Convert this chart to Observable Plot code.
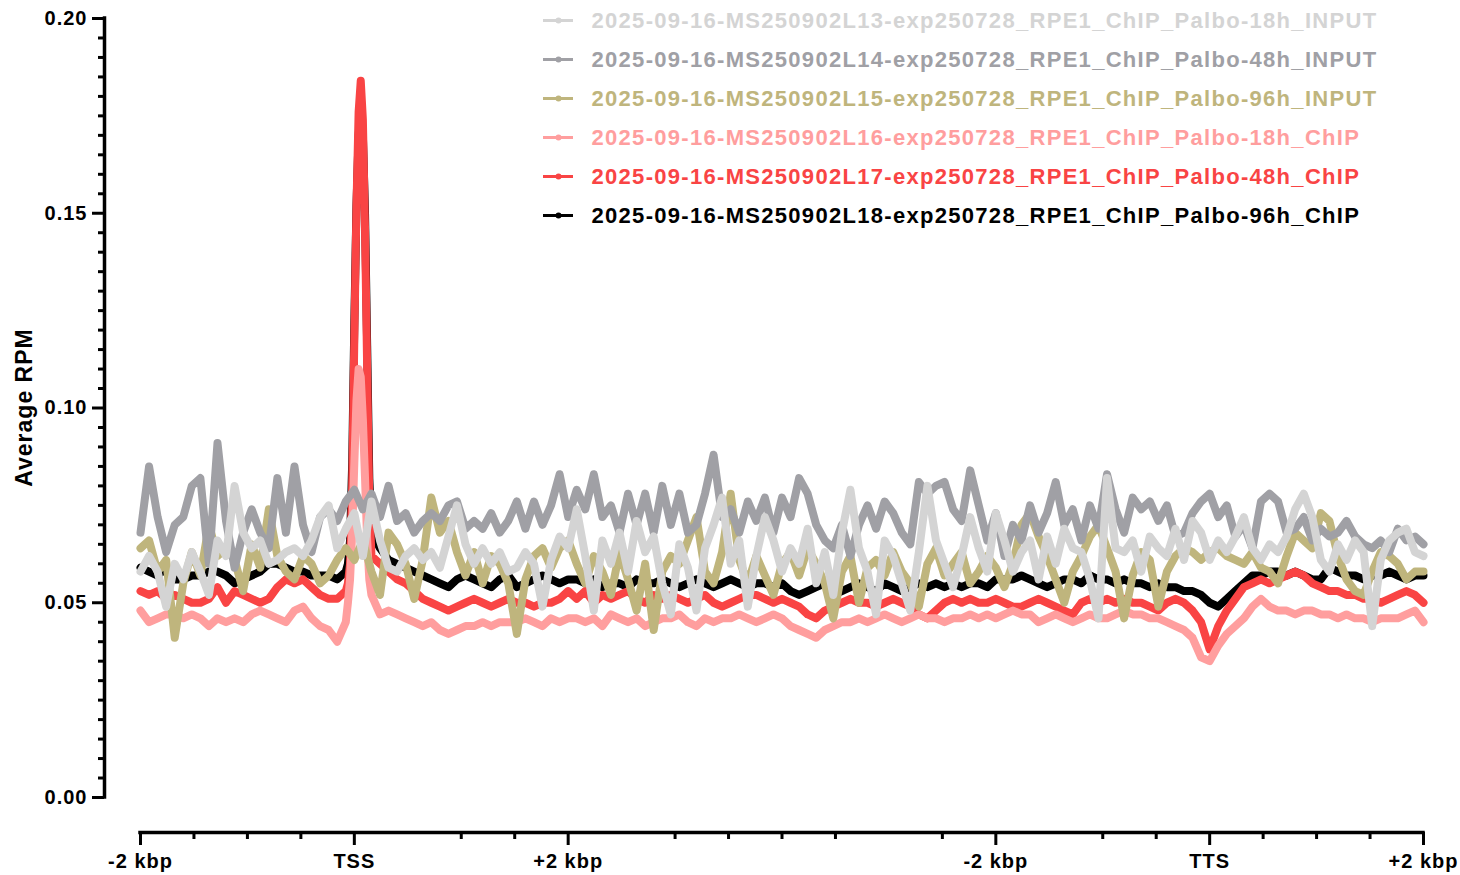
<!DOCTYPE html>
<html>
<head>
<meta charset="utf-8">
<script src="https://cdn.jsdelivr.net/npm/d3@7"></script>
<script src="https://cdn.jsdelivr.net/npm/@observablehq/plot@0.6"></script>
<style>
  html, body { margin: 0; padding: 0; background: #fff; }
  #wrap { position: relative; width: 1460px; height: 875px; }
  #wrap > svg { position: absolute; left: 0; top: 0; }
</style>
</head>
<body>
<div id="wrap"></div>
<script>
// ---------- series names and colours (legend order) ----------
const seriesNames = [
  "2025-09-16-MS250902L13-exp250728_RPE1_ChIP_Palbo-18h_INPUT",
  "2025-09-16-MS250902L14-exp250728_RPE1_ChIP_Palbo-48h_INPUT",
  "2025-09-16-MS250902L15-exp250728_RPE1_ChIP_Palbo-96h_INPUT",
  "2025-09-16-MS250902L16-exp250728_RPE1_ChIP_Palbo-18h_ChIP",
  "2025-09-16-MS250902L17-exp250728_RPE1_ChIP_Palbo-48h_ChIP",
  "2025-09-16-MS250902L18-exp250728_RPE1_ChIP_Palbo-96h_ChIP"
];
const seriesColors = ["#d4d4d4", "#a0a0a5", "#bfb57d", "#ff9e9e", "#f94444", "#000000"];

// ---------- bin grid: 0 = -2 kbp, 1 = TSS, 2 = +2 kbp, 4 = -2 kbp, 5 = TTS, 6 = +2 kbp ----------
const binStep = 0.04; // 151 bins across 0..6

// ---------- Average RPM per bin ----------
const L13 = [
  0.058,0.062,0.058,0.049,0.060,0.056,0.063,0.058,0.052,0.066,
  0.062,0.080,0.068,0.064,0.066,0.060,0.061,0.063,0.064,0.062,
  0.066,0.072,0.075,0.064,0.069,0.073,0.062,0.076,0.066,0.059,
  0.058,0.062,0.064,0.061,0.063,0.059,0.067,0.075,0.065,0.060,
  0.064,0.060,0.063,0.058,0.059,0.063,0.060,0.049,0.061,0.067,
  0.064,
  0.074,0.062,0.048,0.066,0.060,0.068,0.058,0.071,0.063,0.067,
  0.055,0.047,0.065,0.059,0.048,0.064,0.070,0.077,0.060,0.066,
  0.049,0.062,0.072,0.066,0.058,0.064,0.060,0.069,0.055,0.063,
  0.052,0.068,0.079,0.064,0.058,0.047,0.066,0.062,0.055,0.048,
  0.063,0.080,0.066,0.060,0.054,0.062,0.072,0.064,0.058,0.073,
  0.066,0.058,0.063,0.066,0.056,0.067,0.060,0.069,0.064,0.063,
  0.056,0.046,0.082,0.064,0.063,0.066,0.058,0.067,0.064,0.062,
  0.069,0.061,0.071,0.068,0.061,0.066,0.063,0.067,0.072,0.064,
  0.061,0.065,0.063,0.067,0.074,0.078,0.072,0.061,0.058,0.065,
  0.061,0.066,0.063,0.044,0.061,0.066,0.068,0.069,0.063,0.062
];
const L14 = [
  0.068,0.085,0.072,0.063,0.070,0.072,0.080,0.082,0.060,0.091,
  0.071,0.059,0.068,0.074,0.068,0.064,0.082,0.068,0.085,0.070,
  0.063,0.072,0.074,0.071,0.076,0.079,0.074,0.078,0.072,0.080,
  0.071,0.073,0.068,0.071,0.073,0.071,0.075,0.076,0.069,0.071,
  0.069,0.073,0.068,0.071,0.076,0.069,0.076,0.070,0.075,0.083,
  0.072,
  0.079,0.074,0.083,0.072,0.075,0.068,0.078,0.070,0.078,0.068,
  0.080,0.070,0.078,0.068,0.070,0.078,0.088,0.072,0.074,0.068,
  0.076,0.071,0.077,0.068,0.077,0.072,0.082,0.078,0.070,0.066,
  0.064,0.070,0.062,0.070,0.075,0.069,0.076,0.073,0.068,0.065,
  0.081,0.078,0.080,0.081,0.074,0.071,0.084,0.075,0.066,0.073,
  0.062,0.070,0.066,0.075,0.068,0.073,0.081,0.070,0.074,0.066,
  0.075,0.069,0.083,0.074,0.068,0.077,0.074,0.076,0.071,0.075,
  0.067,0.068,0.073,0.076,0.078,0.072,0.075,0.067,0.070,0.064,
  0.076,0.078,0.076,0.068,0.069,0.072,0.066,0.069,0.067,0.068,
  0.071,0.067,0.065,0.064,0.066,0.063,0.069,0.066,0.067,0.065
];
const L15 = [
  0.064,0.066,0.058,0.061,0.041,0.055,0.063,0.057,0.070,0.062,
  0.064,0.061,0.053,0.065,0.059,0.074,0.062,0.058,0.056,0.062,
  0.060,0.055,0.057,0.061,0.064,0.061,0.066,0.058,0.052,0.068,
  0.065,0.060,0.051,0.061,0.077,0.068,0.071,0.063,0.057,0.063,
  0.055,0.062,0.060,0.055,0.042,0.056,0.062,0.064,0.059,0.064,
  0.066,
  0.060,0.055,0.062,0.058,0.052,0.063,0.056,0.048,0.060,0.043,
  0.058,0.062,0.060,0.066,0.072,0.058,0.055,0.063,0.078,0.061,
  0.055,0.062,0.057,0.052,0.060,0.063,0.057,0.064,0.060,0.055,
  0.046,0.058,0.062,0.050,0.059,0.061,0.057,0.063,0.058,0.055,
  0.049,0.060,0.064,0.057,0.060,0.063,0.055,0.058,0.062,0.059,
  0.054,0.060,0.070,0.073,0.067,0.062,0.056,0.050,0.058,0.062,
  0.067,0.070,0.064,0.058,0.046,0.057,0.063,0.061,0.049,0.058,
  0.062,0.064,0.063,0.061,0.063,0.064,0.062,0.061,0.060,0.063,
  0.059,0.058,0.055,0.062,0.068,0.066,0.064,0.073,0.071,0.062,
  0.056,0.053,0.052,0.058,0.063,0.062,0.060,0.056,0.058,0.058
];
const L16 = [
  0.048,0.045,0.046,0.047,0.047,0.046,0.047,0.046,0.044,0.046,
  0.045,0.046,0.045,0.047,0.048,0.047,0.046,0.045,0.048,0.049,
  0.046,0.044,0.043,0.040,0.045,0.086,0.097,0.052,0.047,0.048,
  0.047,0.046,0.045,0.044,0.045,0.043,0.042,0.043,0.044,0.044,
  0.045,0.044,0.045,0.045,0.045,0.046,0.045,0.044,0.046,0.045,
  0.046,
  0.046,0.045,0.046,0.044,0.047,0.046,0.045,0.046,0.044,0.045,
  0.046,0.046,0.047,0.045,0.044,0.046,0.045,0.046,0.046,0.047,
  0.046,0.045,0.046,0.047,0.046,0.044,0.043,0.042,0.041,0.043,
  0.044,0.045,0.045,0.046,0.045,0.046,0.047,0.046,0.045,0.046,
  0.047,0.046,0.046,0.045,0.046,0.046,0.047,0.046,0.047,0.046,
  0.047,0.048,0.047,0.047,0.045,0.046,0.047,0.046,0.045,0.046,
  0.047,0.046,0.046,0.047,0.048,0.047,0.047,0.046,0.046,0.045,
  0.044,0.043,0.041,0.036,0.035,0.039,0.042,0.044,0.046,0.049,
  0.051,0.049,0.048,0.048,0.047,0.048,0.048,0.047,0.047,0.046,
  0.047,0.046,0.046,0.045,0.046,0.046,0.046,0.047,0.048,0.045
];
const L17 = [
  0.053,0.052,0.053,0.051,0.052,0.051,0.050,0.050,0.051,0.054,
  0.050,0.053,0.052,0.051,0.050,0.051,0.054,0.056,0.055,0.056,
  0.054,0.052,0.051,0.051,0.053,0.118,0.174,0.062,0.060,0.058,
  0.056,0.055,0.053,0.051,0.050,0.049,0.048,0.049,0.050,0.051,
  0.050,0.049,0.050,0.051,0.050,0.050,0.049,0.050,0.050,0.051,
  0.053,
  0.051,0.053,0.050,0.052,0.051,0.052,0.053,0.051,0.050,0.052,
  0.051,0.052,0.051,0.050,0.051,0.052,0.050,0.049,0.050,0.051,
  0.052,0.052,0.051,0.050,0.051,0.050,0.049,0.047,0.046,0.048,
  0.049,0.050,0.051,0.050,0.050,0.049,0.050,0.051,0.050,0.049,
  0.047,0.046,0.048,0.050,0.051,0.050,0.051,0.050,0.050,0.051,
  0.050,0.049,0.049,0.050,0.051,0.050,0.049,0.048,0.047,0.050,
  0.051,0.050,0.051,0.050,0.051,0.050,0.050,0.049,0.048,0.050,
  0.051,0.050,0.048,0.045,0.038,0.044,0.048,0.051,0.054,0.055,
  0.056,0.055,0.056,0.057,0.058,0.057,0.055,0.054,0.053,0.053,
  0.052,0.052,0.051,0.051,0.050,0.051,0.052,0.053,0.052,0.050
];
const L18 = [
  0.059,0.058,0.057,0.059,0.056,0.056,0.057,0.057,0.058,0.058,
  0.057,0.055,0.056,0.057,0.058,0.060,0.060,0.059,0.058,0.058,
  0.057,0.057,0.057,0.056,0.058,0.122,0.170,0.068,0.064,0.061,
  0.060,0.059,0.058,0.057,0.056,0.055,0.054,0.056,0.057,0.056,
  0.055,0.054,0.056,0.057,0.054,0.055,0.056,0.057,0.056,0.055,
  0.056,
  0.056,0.055,0.056,0.054,0.055,0.055,0.054,0.056,0.055,0.055,
  0.056,0.055,0.054,0.055,0.056,0.055,0.054,0.055,0.056,0.055,
  0.054,0.055,0.055,0.054,0.055,0.053,0.052,0.053,0.054,0.055,
  0.052,0.053,0.054,0.055,0.054,0.053,0.055,0.054,0.053,0.054,
  0.055,0.054,0.055,0.054,0.055,0.054,0.055,0.055,0.054,0.056,
  0.056,0.056,0.057,0.056,0.055,0.054,0.055,0.056,0.056,0.055,
  0.057,0.056,0.056,0.055,0.056,0.055,0.055,0.054,0.055,0.054,
  0.054,0.053,0.053,0.052,0.050,0.049,0.051,0.053,0.055,0.057,
  0.057,0.058,0.058,0.057,0.058,0.057,0.056,0.056,0.059,0.058,
  0.057,0.057,0.056,0.057,0.057,0.058,0.057,0.056,0.057,0.057
];

// finer bins around the TSS peak (ChIP samples)
const tssDetailX = [0.97, 0.98, 0.99, 1.01, 1.02, 1.03, 1.05, 1.06, 1.07];
const L16tss = [0.050, 0.056, 0.068, 0.102, 0.110, 0.108, 0.082, 0.066, 0.056];
const L17tss = [0.055, 0.060, 0.080, 0.152, 0.176, 0.184, 0.146, 0.110, 0.076];
const L18tss = [0.060, 0.066, 0.086, 0.152, 0.170, 0.177, 0.150, 0.116, 0.082];

// ---------- axis ticks ----------
const xTickValues = [0, 1, 2, 4, 5, 6];
const xTickLabels = ["-2 kbp", "TSS", "+2 kbp", "-2 kbp", "TTS", "+2 kbp"];
const xMinorTicks = [0.25, 0.5, 0.75, 1.5, 1.75, 2.5, 2.75, 3, 3.25, 3.75, 4.5, 4.75, 5.25, 5.5, 5.75];
const yTickValues = [0, 0.05, 0.10, 0.15, 0.20];
const yMinorStep = 0.005;
const yLabel = "Average RPM";

// ---------- build table ----------
const seriesValues = [L13, L14, L15, L16, L17, L18];
const seriesDetail = [null, null, null, L16tss, L17tss, L18tss];
const rows = [];
seriesValues.forEach((arr, s) => {
  const pts = arr.map((v, i) => ({x: +(i * binStep).toFixed(4), y: v}));
  if (seriesDetail[s]) tssDetailX.forEach((x, j) => pts.push({x, y: seriesDetail[s][j]}));
  pts.sort((a, b) => a.x - b.x);
  pts.forEach(p => rows.push({series: seriesNames[s], x: p.x, y: p.y}));
});
const yMinorTicks = d3.range(0, 0.2 + 1e-9, yMinorStep)
  .map(v => +v.toFixed(3))
  .filter(v => !yTickValues.some(t => Math.abs(t - v) < 1e-9));

const font = "'Liberation Sans', Arial, Helvetica, sans-serif";

// draw order: last sample at the back, first sample on top
const drawOrder = [5, 4, 3, 2, 1, 0];
const lineMarks = drawOrder.map(s => Plot.line(rows.filter(r => r.series === seriesNames[s]), {
  x: "x", y: "y", stroke: "series", strokeWidth: 8,
  strokeLinejoin: "round", strokeLinecap: "round"
}));

const chart = Plot.plot({
  width: 1460, height: 875,
  marginLeft: 104, marginRight: 37, marginTop: 18, marginBottom: 43,
  x: {domain: [0, 6], insetLeft: 36},
  y: {domain: [0, 0.2], insetBottom: 35},
  color: {domain: seriesNames, range: seriesColors},
  style: {fontFamily: font, fontWeight: "bold", fontSize: "20px", color: "#000", background: "#fff", letterSpacing: "1px"},
  marks: [
    ...lineMarks,
    // axis lines
    Plot.ruleX([0], {y1: 0, y2: 0.2, dx: -36, stroke: "#000", strokeWidth: 3.5, strokeLinecap: "square"}),
    Plot.ruleY([0], {x1: 0, x2: 6, dy: 35, stroke: "#000", strokeWidth: 3.5, strokeLinecap: "square"}),
    // y ticks
    Plot.axisY(yMinorTicks, {anchor: "left", tickSize: 6, strokeWidth: 3, tickFormat: () => "", label: null}),
    Plot.axisY(yTickValues, {anchor: "left", tickSize: 12, tickPadding: 5, strokeWidth: 3, tickFormat: d => d.toFixed(2), label: null}),
    // x ticks
    Plot.axisX(xMinorTicks, {anchor: "bottom", tickSize: 7, strokeWidth: 3, tickFormat: () => "", label: null}),
    Plot.axisX(xTickValues, {anchor: "bottom", tickSize: 13, tickPadding: 8, strokeWidth: 3,
      tickFormat: d => xTickLabels[xTickValues.indexOf(d)], label: null}),
    // y axis title
    Plot.text([yLabel], {frameAnchor: "left", textAnchor: "middle", lineAnchor: "middle",
      dx: -80, dy: -18, rotate: -90, fontSize: 23, fontWeight: "bold", fill: "#000"})
  ]
});

// ---------- legend (drawn with Plot on a point scale, overlaid top-right) ----------
const legend = Plot.plot({
  width: 1460, height: 240, margin: 0,
  x: {type: "linear", domain: [0, 1460], range: [0, 1460], axis: null},
  y: {type: "point", domain: seriesNames, range: [19, 216.5], padding: 0, axis: null},
  color: {domain: seriesNames, range: seriesColors},
  style: {fontFamily: font, fontWeight: "bold", background: "transparent", letterSpacing: "1.3px"},
  marks: [
    Plot.ruleY(seriesNames, {y: d => d, x1: 543, x2: 573, stroke: d => d, strokeWidth: 3}),
    Plot.dot(seriesNames, {y: d => d, x: 558, fill: d => d, r: 3}),
    Plot.text(seriesNames, {y: d => d, x: 591, text: d => d, fill: d => d, textAnchor: "start", fontSize: 22, fontWeight: "bold"})
  ]
});

const wrap = document.getElementById("wrap");
wrap.appendChild(chart);
wrap.appendChild(legend);
</script>
</body>
</html>
